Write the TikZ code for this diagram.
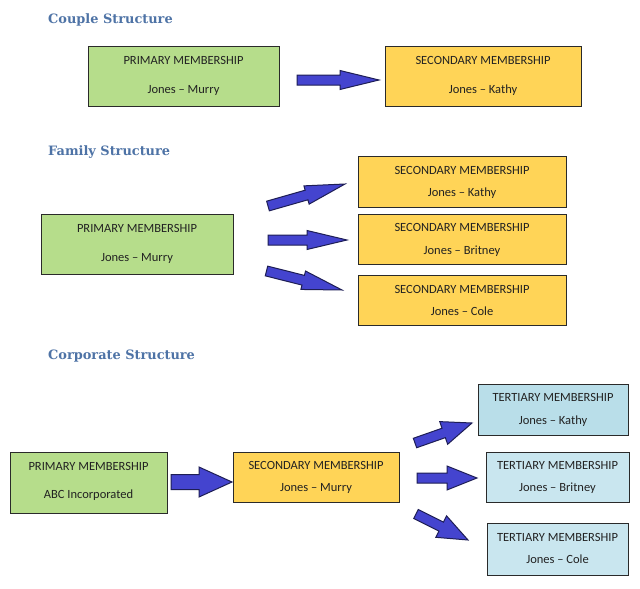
\documentclass[tikz,border=0pt]{standalone}
\usepackage{fontspec}
\setmainfont{Carlito}
\newfontfamily\headfont{DejaVu Serif}
\usetikzlibrary{calc,fit}
\definecolor{hdr}{HTML}{4E73A6}
\definecolor{gfill}{HTML}{B6DD8B}
\definecolor{yfill}{HTML}{FFD457}
\definecolor{bfillA}{HTML}{B9DEE9}
\definecolor{bfillB}{HTML}{C9E6EF}
\definecolor{boxline}{HTML}{2A2A2A}
\definecolor{txt}{HTML}{222222}
\definecolor{arrfill}{HTML}{4444CF}
\definecolor{arrline}{HTML}{1E1E55}
\tikzset{
  membox/.style={draw=boxline, line width=0.9pt, inner sep=0pt},
  gbox/.style={membox, fill=gfill},
  ybox/.style={membox, fill=yfill},
  bboxA/.style={membox, fill=bfillA},
  bboxB/.style={membox, fill=bfillB},
  lbl/.style={inner sep=0pt, text=txt, font=\fontsize{12.5}{14}\selectfont, text height=8pt, text depth=0pt},
  hdrtxt/.style={inner sep=0pt, anchor=west, text=hdr, font=\headfont\bfseries\fontsize{12.9}{15}\selectfont},
  arrowsty/.style={fill=arrfill, draw=arrline, line width=1pt, line join=miter}
}
\newcommand\blockarrow[5]{%
  \coordinate (baC) at ($(#2)!#3!(#1)$);
  \filldraw[arrowsty] ($(#1)!#4!90:(#2)$) -- ($(baC)!#4!-90:(#1)$) -- ($(baC)!#5!-90:(#1)$) -- (#2) -- ($(baC)!#5!90:(#1)$) -- ($(baC)!#4!90:(#1)$) -- ($(#1)!#4!-90:(#2)$) -- cycle;}
\begin{document}
\begin{tikzpicture}[x=1pt,y=-1pt]
\fill[white] (0,0) rectangle (640,589);
\useasboundingbox (0,0) rectangle (640,589);

% Headers
\node[hdrtxt] (h1) at (48,19.5) {Couple Structure};
\node[hdrtxt] (h2) at (48,152.5) {Family Structure};
\node[hdrtxt] (h3) at (48,356.5) {Corporate Structure};

% Couple
\node[gbox, fit={(88,46) (279,106)}] (cpP) {};
\node[lbl] (cpP1) at (cpP |- 0,60.5) {PRIMARY MEMBERSHIP};
\node[lbl] (cpP2) at (cpP |- 0,89.5) {Jones – Murry};
\node[ybox, fit={(385,46) (581,106)}] (cpS) {};
\node[lbl] (cpS1) at (cpS |- 0,60.5) {SECONDARY MEMBERSHIP};
\node[lbl] (cpS2) at (cpS |- 0,89.5) {Jones – Kathy};
\coordinate (a1s) at (297,80);
\coordinate (a1e) at (379,80);
\blockarrow{a1s}{a1e}{39pt}{5pt}{9.5pt}

% Family
\node[gbox, fit={(41,214) (233,274)}] (fmP) {};
\node[lbl] (fmP1) at (fmP |- 0,228.5) {PRIMARY MEMBERSHIP};
\node[lbl] (fmP2) at (fmP |- 0,257.5) {Jones – Murry};
\node[ybox, fit={(358,156) (566,207)}] (fmS1) {};
\node[lbl] (fmS1a) at (fmS1 |- 0,170) {SECONDARY MEMBERSHIP};
\node[lbl] (fmS1b) at (fmS1 |- 0,192.5) {Jones – Kathy};
\node[ybox, fit={(358,214) (566,264)}] (fmS2) {};
\node[lbl] (fmS2a) at (fmS2 |- 0,227.5) {SECONDARY MEMBERSHIP};
\node[lbl] (fmS2b) at (fmS2 |- 0,250.5) {Jones – Britney};
\node[ybox, fit={(358,275) (566,325)}] (fmS3) {};
\node[lbl] (fmS3a) at (fmS3 |- 0,289) {SECONDARY MEMBERSHIP};
\node[lbl] (fmS3b) at (fmS3 |- 0,311.5) {Jones – Cole};
\coordinate (f1s) at (268,206);
\coordinate (f1e) at (345,184);
\coordinate (f2s) at (268,240);
\coordinate (f2e) at (347,240);
\coordinate (f3s) at (266.5,271);
\coordinate (f3e) at (342,290);
\blockarrow{f1s}{f1e}{40pt}{5pt}{9.5pt}
\blockarrow{f2s}{f2e}{40pt}{5pt}{9.5pt}
\blockarrow{f3s}{f3e}{40pt}{5pt}{9.5pt}

% Corporate
\node[gbox, fit={(10,452) (167,513)}] (coP) {};
\node[lbl] (coP1) at (coP |- 0,466.5) {PRIMARY MEMBERSHIP};
\node[lbl] (coP2) at (coP |- 0,494.5) {ABC Incorporated};
\node[ybox, fit={(233,452) (399,502)}] (coS) {};
\node[lbl] (coS1) at (coS |- 0,465) {SECONDARY MEMBERSHIP};
\node[lbl] (coS2) at (coS |- 0,487.5) {Jones – Murry};
\node[bboxA, fit={(478,384) (628,435)}] (coT1) {};
\node[lbl] (coT1a) at (coT1 |- 0,397.5) {TERTIARY MEMBERSHIP};
\node[lbl] (coT1b) at (coT1 |- 0,420) {Jones – Kathy};
\node[bboxB, fit={(486,452) (629,502)}] (coT2) {};
\node[lbl] (coT2a) at (coT2 |- 0,465) {TERTIARY MEMBERSHIP};
\node[lbl] (coT2b) at (coT2 |- 0,487.5) {Jones – Britney};
\node[bboxB, fit={(487,523) (628,575)}] (coT3) {};
\node[lbl] (coT3a) at (coT3 |- 0,537) {TERTIARY MEMBERSHIP};
\node[lbl] (coT3b) at (coT3 |- 0,559.5) {Jones – Cole};
\coordinate (c0s) at (171,482);
\coordinate (c0e) at (232,482);
\blockarrow{c0s}{c0e}{33pt}{7.5pt}{15pt}
\coordinate (c1s) at (415,443);
\coordinate (c1e) at (472,423);
\coordinate (c2s) at (417,478);
\coordinate (c2e) at (477,478);
\coordinate (c3s) at (416,514);
\coordinate (c3e) at (468,540);
\blockarrow{c1s}{c1e}{30pt}{5pt}{12pt}
\blockarrow{c2s}{c2e}{30pt}{5pt}{12pt}
\blockarrow{c3s}{c3e}{30pt}{5pt}{12pt}
\end{tikzpicture}
\end{document}
